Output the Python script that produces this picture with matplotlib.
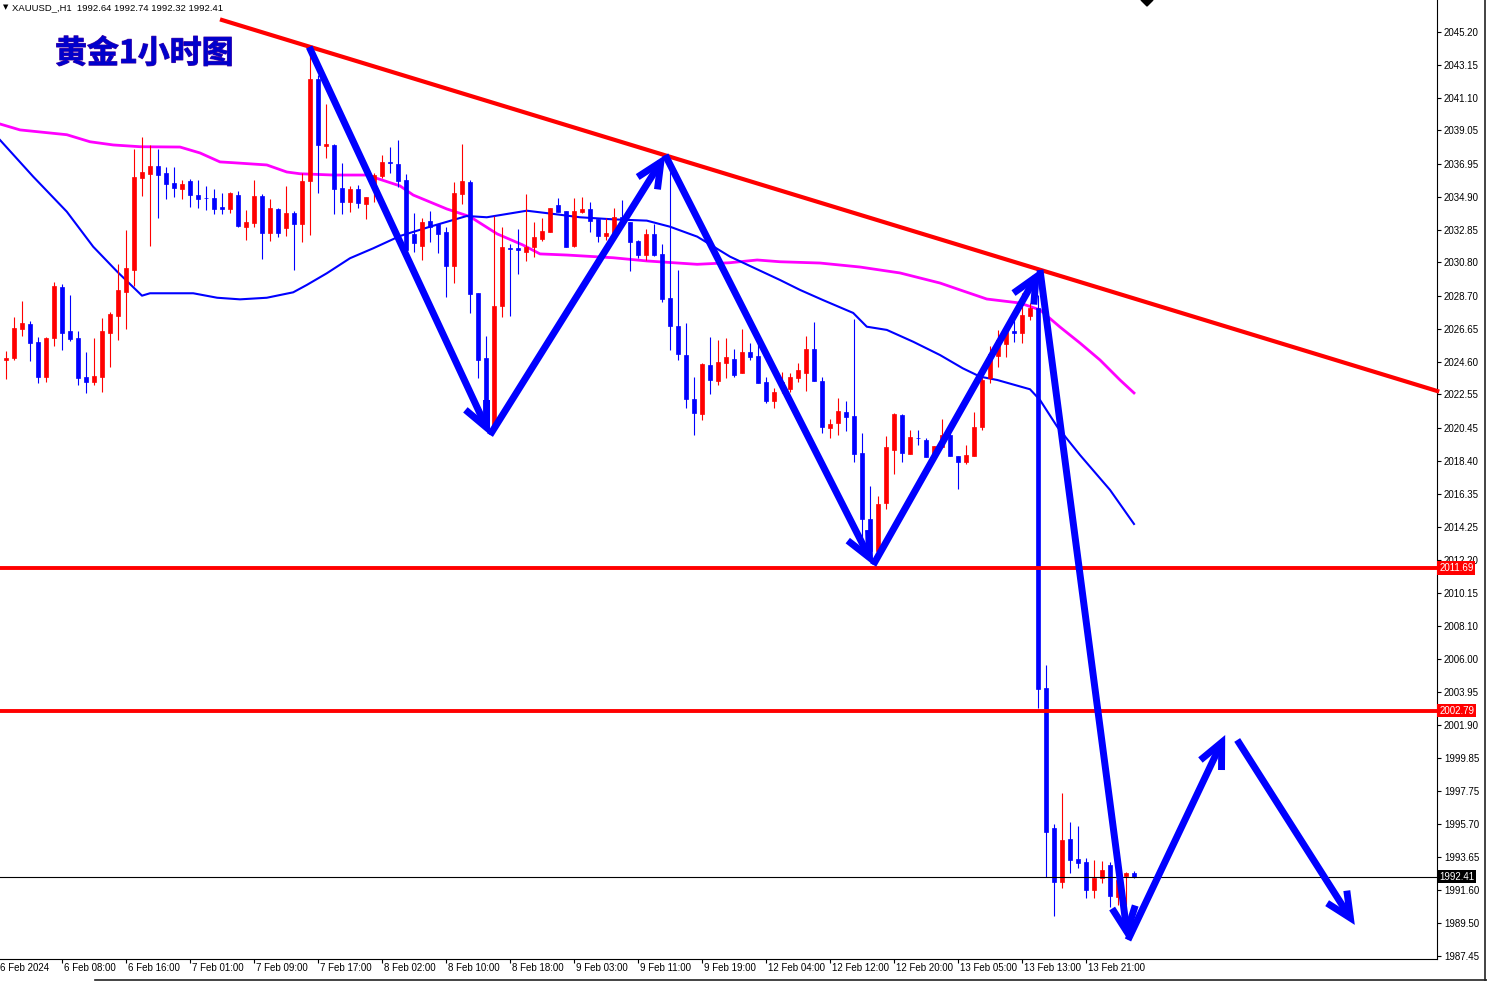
import numpy as np
import matplotlib
matplotlib.use("Agg")
from matplotlib import pyplot as plt
from matplotlib import transforms
from matplotlib.lines import Line2D
from matplotlib.patches import Polygon
import matplotlib.patheffects as pe

# hourly OHLC, one row per bar (bar index 0 = 6 Feb 01:00)
opens = [2024.70, 2024.81, 2026.64, 2026.95, 2025.83, 2023.66, 2026.09, 2029.28, 2026.49, 2026.08,
         2023.64, 2023.33, 2023.66, 2026.41, 2027.47, 2028.95, 2030.34, 2036.09, 2036.34, 2036.83,
         2036.39, 2035.76, 2035.41, 2035.87, 2035.01, 2034.84, 2034.83, 2034.28, 2034.16, 2035.01,
         2033.03, 2033.28, 2034.95, 2032.66, 2034.12, 2032.97, 2033.91, 2033.23, 2035.89, 2042.26,
         2038.09, 2038.14, 2035.47, 2034.58, 2035.39, 2034.47, 2035.53, 2036.20, 2037.06, 2036.95,
         2035.95, 2032.58, 2031.83, 2033.41, 2033.18, 2032.70, 2030.58, 2035.08, 2035.84, 2028.91,
         2024.81, 2020.45, 2028.08, 2031.70, 2031.70, 2031.47, 2031.76, 2032.28, 2032.72, 2034.39,
         2034.03, 2031.83, 2033.97, 2034.12, 2033.49, 2032.45, 2032.66, 2033.62, 2033.34, 2032.14,
         2031.26, 2032.58, 2031.33, 2028.56, 2026.83, 2025.01, 2022.26, 2021.33, 2024.39, 2023.41,
         2024.53, 2024.76, 2023.91, 2025.18, 2024.95, 2023.31, 2022.16, 2022.93, 2022.89, 2023.59,
         2023.91, 2025.39, 2023.39, 2020.45, 2020.78, 2021.43, 2021.20, 2018.91, 2014.76, 2012.78,
         2015.74, 2019.08, 2021.26, 2018.83, 2019.84, 2019.70, 2018.66, 2019.28, 2020.01, 2018.70,
         2018.34, 2018.72, 2020.49, 2023.56, 2024.95, 2025.70, 2026.51, 2026.37, 2027.47, 2027.95,
         2004.22, 1995.43, 1992.06, 1994.76, 1993.49, 1993.33, 1991.58, 1992.34, 1993.14, 1991.16,
         1992.47, 1992.64]
highs = [2025.26, 2027.41, 2028.39, 2027.14, 2026.16, 2026.16, 2029.56, 2029.45, 2028.78, 2026.51,
         2025.22, 2026.08, 2027.33, 2027.68, 2030.68, 2032.83, 2037.87, 2038.66, 2038.12, 2037.89,
         2036.74, 2036.76, 2035.95, 2036.03, 2035.95, 2035.58, 2035.37, 2035.12, 2035.20, 2035.28,
         2034.08, 2035.95, 2035.08, 2034.76, 2034.18, 2035.58, 2034.01, 2036.41, 2044.08, 2042.50,
         2040.70, 2038.20, 2036.99, 2035.58, 2035.64, 2034.91, 2036.37, 2037.51, 2037.99, 2038.45,
         2036.31, 2033.87, 2033.56, 2034.03, 2033.20, 2033.03, 2035.81, 2038.20, 2035.95, 2028.91,
         2026.20, 2033.70, 2032.99, 2031.95, 2032.89, 2035.08, 2033.31, 2033.56, 2034.20, 2034.81,
         2034.03, 2034.81, 2034.87, 2034.59, 2033.49, 2033.56, 2034.22, 2034.70, 2033.34, 2032.20,
         2032.89, 2033.20, 2031.95, 2037.33, 2030.33, 2027.03, 2023.66, 2024.53, 2026.16, 2025.95,
         2026.06, 2025.39, 2026.64, 2025.74, 2026.37, 2023.62, 2022.93, 2023.97, 2023.91, 2024.53,
         2026.22, 2027.06, 2023.62, 2021.01, 2022.31, 2022.14, 2027.26, 2020.16, 2016.83, 2016.20,
         2019.95, 2021.37, 2021.30, 2020.33, 2020.33, 2019.81, 2019.34, 2021.01, 2020.22, 2018.70,
         2019.39, 2021.43, 2023.70, 2025.58, 2026.58, 2026.58, 2027.51, 2028.87, 2028.24, 2028.76,
         2005.64, 1995.70, 1997.62, 1995.81, 1995.58, 1993.56, 1993.45, 1993.41, 1993.34, 1992.72,
         1992.72, 1992.74]
lows = [2023.49, 2024.70, 2026.22, 2024.66, 2023.24, 2023.34, 2025.59, 2025.33, 2025.91, 2023.14,
        2022.66, 2023.14, 2022.72, 2024.28, 2025.95, 2026.64, 2029.34, 2034.97, 2031.84, 2033.59,
        2034.78, 2034.91, 2034.78, 2034.28, 2034.22, 2034.06, 2033.81, 2033.81, 2033.91, 2033.03,
        2032.20, 2033.03, 2030.99, 2032.16, 2032.41, 2032.45, 2030.33, 2032.09, 2032.51, 2035.16,
        2037.34, 2033.81, 2033.81, 2033.97, 2034.18, 2033.49, 2034.59, 2036.09, 2036.41, 2035.53,
        2031.50, 2031.47, 2030.95, 2032.09, 2031.37, 2028.66, 2029.53, 2034.45, 2027.66, 2023.59,
        2020.35, 2020.33, 2027.37, 2027.47, 2030.06, 2030.89, 2031.16, 2032.12, 2032.72, 2033.97,
        2031.78, 2031.74, 2033.87, 2032.72, 2032.09, 2032.20, 2032.20, 2033.03, 2030.26, 2031.06,
        2030.95, 2031.20, 2028.34, 2025.33, 2024.70, 2021.68, 2020.01, 2020.95, 2022.58, 2023.14,
        2023.56, 2023.62, 2023.91, 2024.70, 2023.28, 2021.99, 2021.68, 2022.62, 2022.68, 2023.31,
        2022.78, 2023.39, 2020.16, 2019.81, 2020.01, 2020.28, 2018.34, 2013.45, 2012.40, 2012.20,
        2015.37, 2017.58, 2018.34, 2018.80, 2019.39, 2018.66, 2018.66, 2019.28, 2018.72, 2016.64,
        2018.18, 2018.72, 2020.33, 2023.24, 2024.24, 2024.91, 2025.84, 2025.78, 2027.20, 2002.95,
        1992.41, 1989.97, 1991.68, 1992.62, 1992.93, 1991.06, 1991.06, 1991.99, 1990.53, 1990.64,
        1990.64, 1992.32]
closes = [2024.84, 2026.70, 2027.03, 2025.78, 2023.66, 2026.08, 2029.33, 2026.41, 2026.01, 2023.59,
          2023.34, 2023.70, 2026.51, 2027.59, 2029.08, 2030.45, 2036.14, 2036.45, 2036.83, 2036.28,
          2035.72, 2035.47, 2035.70, 2035.03, 2034.78, 2034.81, 2034.16, 2034.16, 2035.12, 2033.08,
          2033.33, 2034.95, 2032.66, 2034.18, 2032.66, 2033.87, 2033.22, 2035.89, 2042.26, 2038.14,
          2038.20, 2035.41, 2034.58, 2035.39, 2034.53, 2034.91, 2036.26, 2037.08, 2036.99, 2035.91,
          2031.58, 2031.99, 2033.33, 2032.99, 2032.59, 2030.58, 2035.16, 2035.89, 2028.84, 2024.70,
          2020.45, 2028.08, 2031.78, 2031.64, 2031.58, 2031.78, 2032.39, 2032.76, 2034.20, 2033.97,
          2031.78, 2034.03, 2034.12, 2033.39, 2032.45, 2032.62, 2033.62, 2033.24, 2032.09, 2031.26,
          2032.58, 2031.26, 2028.51, 2026.83, 2025.08, 2022.24, 2021.41, 2024.45, 2023.45, 2024.59,
          2024.91, 2023.76, 2025.22, 2024.87, 2023.28, 2022.16, 2022.72, 2023.34, 2023.62, 2024.08,
          2025.39, 2023.39, 2020.53, 2020.70, 2021.51, 2021.12, 2018.83, 2014.76, 2012.78, 2015.70,
          2019.28, 2021.33, 2018.91, 2019.91, 2019.81, 2018.66, 2019.34, 2020.01, 2018.72, 2018.34,
          2018.76, 2020.53, 2023.45, 2025.08, 2025.95, 2026.47, 2026.37, 2027.51, 2027.93, 2004.12,
          1995.22, 1992.06, 1994.70, 1993.45, 1993.28, 1991.58, 1992.34, 1992.83, 1991.22, 1992.20,
          1992.62, 1992.41]

# moving averages (bar position, price)
ma_slow_x = [-0.75, 1.75, 7.6, 10.5, 13.4, 16.75, 21.75, 24.25, 26.75, 28.4, 32.6, 35.1, 36.75,
             40.9, 45.1, 49.25, 50.9, 55.1, 58.0, 61.4, 64.6, 66.75, 70.1, 75.9, 80.1, 86.4, 90.5,
             93.9, 96.75, 101.75, 106.75, 111.75, 116.75, 119.25, 122.6, 126.75, 129.25, 131.75,
             134.25, 136.75, 139.25, 141.0]
ma_slow_y = [2039.45, 2039.08, 2038.78, 2038.34, 2038.14, 2038.03, 2038.01, 2037.64, 2037.08,
             2037.03, 2036.89, 2036.45, 2036.34, 2036.26, 2036.26, 2035.58, 2035.01, 2034.14,
             2033.66, 2032.58, 2031.89, 2031.33, 2031.26, 2031.09, 2030.89, 2030.68, 2030.78,
             2030.95, 2030.84, 2030.76, 2030.51, 2030.14, 2029.51, 2029.08, 2028.51, 2028.26,
             2027.83, 2026.76, 2025.76, 2024.70, 2023.45, 2022.64]
ma_fast_x = [-0.75, 3.4, 7.6, 10.9, 13.9, 17.0, 18.0, 23.4, 26.4, 29.25, 32.6, 35.9, 37.6, 40.1,
             43.0, 45.9, 49.25, 53.0, 57.6, 60.1, 65.1, 68.4, 71.75, 75.9, 80.1, 83.0, 86.4, 90.5,
             96.75, 99.25, 102.1, 105.9, 107.6, 110.1, 113.4, 116.75, 119.6, 121.75, 123.9, 128.0,
             129.25, 131.4, 134.25, 138.0, 141.0]
ma_fast_y = [2038.45, 2036.16, 2033.97, 2031.78, 2030.22, 2028.72, 2028.87, 2028.87, 2028.59,
             2028.49, 2028.59, 2028.93, 2029.39, 2030.12, 2031.06, 2031.68, 2032.45, 2033.03,
             2033.70, 2033.62, 2034.03, 2033.83, 2033.62, 2033.49, 2033.41, 2033.03, 2032.41,
             2031.16, 2029.70, 2029.08, 2028.45, 2027.64, 2026.78, 2026.58, 2025.84, 2025.01,
             2024.18, 2023.66, 2023.45, 2022.87, 2022.20, 2020.53, 2018.76, 2016.58, 2014.45]

# axis labels
price_ticks = [2045.20, 2043.15, 2041.10, 2039.05, 2036.95, 2034.90, 2032.85, 2030.80, 2028.70,
               2026.65, 2024.60, 2022.55, 2020.45, 2018.40, 2016.35, 2014.25, 2012.20, 2010.15,
               2008.10, 2006.00, 2003.95, 2001.90, 1999.85, 1997.75, 1995.70, 1993.65, 1991.60,
               1989.50, 1987.45]
time_ticks = [-1, 7, 15, 23, 31, 39, 47, 55, 63, 71, 79, 87, 95, 103, 111, 119, 127, 135]
time_labels = ["6 Feb 2024", "6 Feb 08:00", "6 Feb 16:00", "7 Feb 01:00", "7 Feb 09:00",
               "7 Feb 17:00", "8 Feb 02:00", "8 Feb 10:00", "8 Feb 18:00", "9 Feb 03:00",
               "9 Feb 11:00", "9 Feb 19:00", "12 Feb 04:00", "12 Feb 12:00", "12 Feb 20:00",
               "13 Feb 05:00", "13 Feb 13:00", "13 Feb 21:00"]

# drawn objects
trend_line = [(27.0, 2045.95), (178.9, 2022.76)]
levels = [2011.69, 2002.79]
last_price = 1992.41
arrows = [((37.9, 2044.26), (60.5, 2020.01)),
          ((60.5, 2020.01), (82.4, 2037.51)),
          ((82.4, 2037.51), (108.4, 2011.89)),
          ((108.4, 2011.89), (129.25, 2030.33)),
          ((129.25, 2030.33), (140.25, 1988.45)),
          ((140.25, 1988.45), (152.4, 2001.26)),
          ((153.9, 2000.95), (168.6, 1989.39))]

RED = '#ff0000'
BLUE = '#0000ff'
W, H = 1487, 983

fig = plt.figure(figsize=(W / 100, H / 100), dpi=100)
fig.patch.set_facecolor('white')
ax = fig.add_axes([0, (H - 959) / H, 1437 / W, 959 / H])
ax.set_xlim(-0.75, 178.875)
ax.set_ylim(1987.26, 2047.2)

# candles
o = np.array(opens)
c = np.array(closes)
hi = np.array(highs)
lo = np.array(lows)
x = np.arange(len(o))
cols = np.where(c >= o, RED, BLUE)
ax.vlines(x, lo, hi, colors=cols, lw=0.8, zorder=3)
ax.bar(x, np.abs(c - o), bottom=np.minimum(o, c), width=0.62, color=cols,
       edgecolor=cols, lw=0.5, zorder=3)

# moving averages
ax.plot(ma_slow_x, ma_slow_y, color='#ff00ff', lw=2.0, zorder=2)
ax.plot(ma_fast_x, ma_fast_y, color=BLUE, lw=1.5, zorder=2)

# levels and trend line
(tx0, ty0), (tx1, ty1) = trend_line
ax.plot([tx0, tx1], [ty0, ty1], color=RED, lw=3, zorder=4, clip_on=False)
for lv in levels:
    ax.axhline(lv, color=RED, lw=2.8, zorder=4)
ax.axhline(last_price, color='black', lw=0.8, zorder=4)

# arrows
for start, end in arrows:
    ax.annotate('', xy=end, xytext=start,
                arrowprops=dict(arrowstyle='->,head_length=1.5,head_width=0.7',
                                color=BLUE, lw=5, shrinkA=0, shrinkB=0,
                                mutation_scale=12, joinstyle='miter', capstyle='butt'),
                zorder=5)

# axes styling
for side in ['left', 'top']:
    ax.spines[side].set_visible(False)
for side in ['right', 'bottom']:
    ax.spines[side].set_linewidth(0.8)
ax.yaxis.tick_right()
ax.set_yticks(price_ticks)
ax.set_yticklabels(['%.2f' % v for v in price_ticks], fontsize=7, family='Liberation Sans')
ax.tick_params(axis='y', direction='out', length=3, width=0.8, pad=2)
ax.set_xticks(time_ticks[1:])
ax.set_xticklabels([])
ax.tick_params(axis='x', direction='out', length=3, width=0.8)

xlab_tr = transforms.blended_transform_factory(ax.transData, ax.transAxes)
shift = transforms.ScaledTranslation(1.5 / 100, -9 / 100, fig.dpi_scale_trans)
for t, lab in zip(time_ticks, time_labels):
    ax.text(t, 0, lab, transform=xlab_tr + shift, ha='left', va='center', fontsize=7,
            family='Liberation Sans', clip_on=False)

# price boxes on the scale
ylab_tr = transforms.blended_transform_factory(ax.transAxes, ax.transData)
for lv, bg in [(levels[0], RED), (levels[1], RED), (last_price, 'black')]:
    ax.text(1.0015, lv, '%.2f' % lv, transform=ylab_tr, ha='left', va='center', fontsize=7,
            family='Liberation Sans', color='white', zorder=10, clip_on=False,
            bbox=dict(boxstyle='square,pad=0.18', fc=bg, ec='none'))

# header texts
fig.text(3 / W, 1 - 7 / H, '\u25bc', fontsize=5, va='center', ha='left', family='DejaVu Sans')
fig.text(12 / W, 1 - 7.5 / H, 'XAUUSD_,H1  1992.64 1992.74 1992.32 1992.41', fontsize=6.8,
         va='center', ha='left', family='Liberation Sans')
fig.text(55 / W, 1 - 54 / H, '黄金1小时图', fontsize=23, fontweight='bold', color='#0000cc',
         va='center', ha='left', family=['Noto Sans CJK SC', 'DejaVu Sans'],
         path_effects=[pe.withStroke(linewidth=0.8, foreground='#5010a0')])

# chart shift marker and window frame
fig.add_artist(Polygon([(1141 / W, 1.0), (1153 / W, 1.0), (1147 / W, 1 - 6 / H)],
                       closed=True, color='black', transform=fig.transFigure))
fig.add_artist(Line2D([1485 / W, 1485 / W], [1 - 980 / H, 1.0], color='#222222', lw=1.2,
                      transform=fig.transFigure))
fig.add_artist(Line2D([95 / W, 1.0], [1 - 980 / H, 1 - 980 / H], color='#222222', lw=1.2,
                      transform=fig.transFigure))

fig.savefig('out.png', dpi=100)
